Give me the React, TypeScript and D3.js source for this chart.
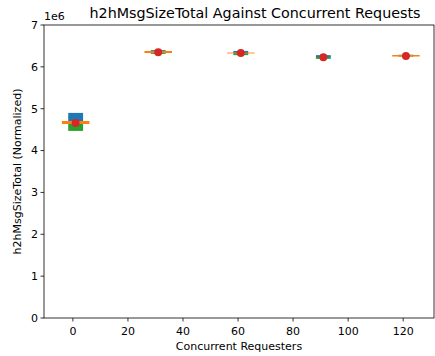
import React from "react";
import * as d3 from "d3";

// Requester counts along the x axis
const positions = [1, 31, 61, 91, 121];
// Per-group values (units of 1e6)
const upperValues = [4.9, 6.4, 6.38, 6.28, 6.29];
const medianValues = [4.67, 6.355, 6.33, 6.235, 6.265];
const lowerValues = [4.47, 6.31, 6.28, 6.19, 6.245];
const meanValues = [4.66, 6.35, 6.33, 6.23, 6.26];
const medianAlpha = [1, 1, 0.45, 0, 1];
const medianWidth = [3, 2, 2, 2, 1.5];

const xTicks = [0, 20, 40, 60, 80, 100, 120];
const yTicks = [0, 1, 2, 3, 4, 5, 6, 7];

const W = 435;
const H = 356;
const left = 44;
const right = 434;
const top = 25;
const bottom = 318;

export default function App() {
  const x = d3.scaleLinear().domain([-10.5, 131.2]).range([left, right]);
  const y = d3.scaleLinear().domain([0, 7]).range([bottom, top]);
  const font = "DejaVu Sans, sans-serif";
  const boxHalf = 2.7;
  const lineHalf = 5;

  return (
    <svg
      width={W}
      height={H}
      style={{ position: "absolute", left: 0, top: 0, background: "#fff" }}
      fontFamily={font}
    >
      {positions.map((p, i) => (
        <g key={i}>
          <rect
            x={x(p - boxHalf)}
            y={y(upperValues[i])}
            width={x(p + boxHalf) - x(p - boxHalf)}
            height={y(medianValues[i]) - y(upperValues[i])}
            fill="#1f77b4"
          />
          <rect
            x={x(p - boxHalf)}
            y={y(medianValues[i])}
            width={x(p + boxHalf) - x(p - boxHalf)}
            height={y(lowerValues[i]) - y(medianValues[i])}
            fill="#2ca02c"
          />
          <line
            x1={x(p - lineHalf)}
            x2={x(p + lineHalf)}
            y1={y(medianValues[i])}
            y2={y(medianValues[i])}
            stroke="#ff7f0e"
            strokeOpacity={medianAlpha[i]}
            strokeWidth={medianWidth[i]}
          />
          <circle cx={x(p)} cy={y(meanValues[i])} r={4} fill="#d62728" />
        </g>
      ))}

      {/* frame */}
      <rect
        x={left}
        y={top}
        width={right - left}
        height={bottom - top}
        fill="none"
        stroke="#000"
        strokeWidth={0.8}
      />

      {/* x axis */}
      {xTicks.map((t) => (
        <g key={t} transform={`translate(${x(t)},${bottom})`}>
          <line y1={0} y2={3.5} stroke="#000" strokeWidth={0.8} />
          <text y={17} textAnchor="middle" fontSize={11} fill="#000">
            {t}
          </text>
        </g>
      ))}
      {/* y axis */}
      {yTicks.map((t) => (
        <g key={t} transform={`translate(${left},${y(t)})`}>
          <line x1={0} x2={-3.5} stroke="#000" strokeWidth={0.8} />
          <text x={-6} dy="0.35em" textAnchor="end" fontSize={11} fill="#000">
            {t}
          </text>
        </g>
      ))}
      <text x={left} y={20} fontSize={11} fill="#000">
        1e6
      </text>

      <text
        x={(left + right) / 2}
        y={350}
        textAnchor="middle"
        fontSize={11}
        fill="#000"
      >
        Concurrent Requesters
      </text>
      <text
        transform={`translate(21,${(top + bottom) / 2}) rotate(-90)`}
        textAnchor="middle"
        fontSize={11}
        fill="#000"
      >
        h2hMsgSizeTotal (Normalized)
      </text>
      <text x={255} y={18} textAnchor="middle" fontSize={14.3} fill="#000">
        h2hMsgSizeTotal Against Concurrent Requests
      </text>
    </svg>
  );
}
